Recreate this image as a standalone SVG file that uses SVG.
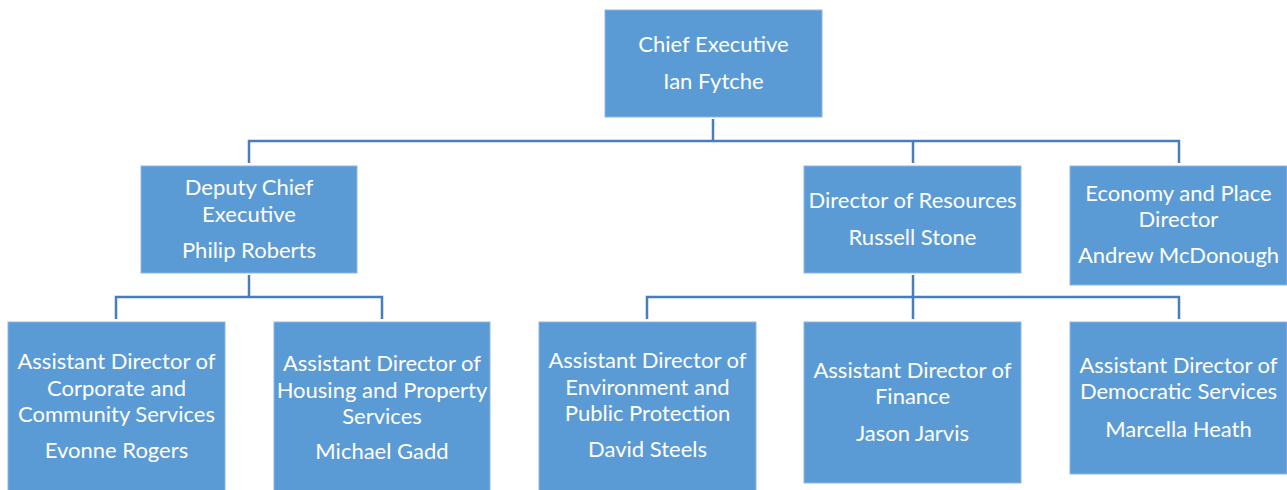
<svg xmlns="http://www.w3.org/2000/svg" width="1287" height="490" viewBox="0 0 1287 490">
<style>
.box{fill:#5B9BD5;stroke:#8DB6E3;stroke-width:1}
.t{font-family:Lato,"Open Sans",sans-serif;font-size:22px;fill:#FFFFFF;text-anchor:middle}
.c{fill:none;stroke:#4A7EBB;stroke-width:2.5}
</style>
<rect width="1287" height="490" fill="#FFFFFF"/>
<g id="connectors">
<path class="c" d="M713 119V141M249 163V141H1179V163M913 141V163"/>
<path class="c" d="M249 275V297M116 319V297H382V319"/>
<path class="c" d="M913 275V319M647 319V297H1179V319"/>
</g>
<g id="chief"><rect class="box" x="605" y="10" width="217" height="107"/>
<text class="t" x="713.5" y="52">Chief Executive</text><text class="t" x="713.5" y="89">Ian Fytche</text></g>
<g id="deputy"><rect class="box" x="141" y="166" width="216" height="107"/>
<text class="t" x="249" y="195">Deputy Chief</text><text class="t" x="249" y="222">Executive</text><text class="t" x="249" y="258">Philip Roberts</text></g>
<g id="resources"><rect class="box" x="804" y="166" width="217" height="107"/>
<text class="t" x="912.5" y="208">Director of Resources</text><text class="t" x="912.5" y="245">Russell Stone</text></g>
<g id="economy"><rect class="box" x="1070" y="166" width="217" height="119"/>
<text class="t" x="1178.5" y="201">Economy and Place</text><text class="t" x="1178.5" y="227">Director</text><text class="t" x="1178.5" y="263">Andrew McDonough</text></g>
<g id="corporate"><rect class="box" x="8" y="322" width="217" height="170"/>
<text class="t" x="116.5" y="369">Assistant Director of</text><text class="t" x="116.5" y="396">Corporate and</text><text class="t" x="116.5" y="422">Community Services</text><text class="t" x="116.5" y="458">Evonne Rogers</text></g>
<g id="housing"><rect class="box" x="274" y="322" width="216" height="170"/>
<text class="t" x="382" y="371">Assistant Director of</text><text class="t" x="382" y="398">Housing and Property</text><text class="t" x="382" y="424">Services</text><text class="t" x="382" y="459">Michael Gadd</text></g>
<g id="environment"><rect class="box" x="539" y="322" width="217" height="170"/>
<text class="t" x="647.5" y="368">Assistant Director of</text><text class="t" x="647.5" y="395">Environment and</text><text class="t" x="647.5" y="421">Public Protection</text><text class="t" x="647.5" y="457">David Steels</text></g>
<g id="finance"><rect class="box" x="804" y="322" width="217" height="161"/>
<text class="t" x="912.5" y="378">Assistant Director of</text><text class="t" x="912.5" y="404">Finance</text><text class="t" x="912.5" y="441">Jason Jarvis</text></g>
<g id="democratic"><rect class="box" x="1070" y="322" width="217" height="152"/>
<text class="t" x="1178.5" y="373">Assistant Director of</text><text class="t" x="1178.5" y="399">Democratic Services</text><text class="t" x="1178.5" y="437">Marcella Heath</text></g>
</svg>
